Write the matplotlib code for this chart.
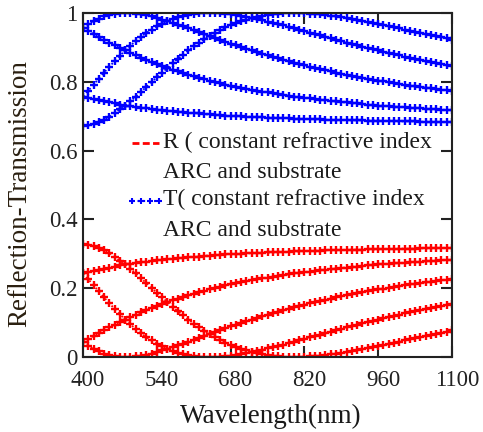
import matplotlib
matplotlib.use('Agg')
import numpy as np
import matplotlib.pyplot as plt
import matplotlib.transforms as mtransforms
from matplotlib.lines import Line2D
from matplotlib.legend_handler import HandlerLine2D

plt.rcParams['font.family'] = ['Liberation Serif', 'DejaVu Serif']

wavelength = list(range(400, 1101, 10))

# Reflection curves (ARC of increasing thickness)
R1 = [0.243, 0.247, 0.250, 0.254, 0.257, 0.260, 0.263, 0.266, 0.269, 0.271, 0.273, 0.275, 0.277, 0.279, 0.281,
      0.283, 0.284, 0.286, 0.287, 0.289, 0.290, 0.291, 0.292, 0.294, 0.295, 0.296, 0.297, 0.298, 0.298, 0.299,
      0.300, 0.301, 0.302, 0.302, 0.303, 0.304, 0.304, 0.305, 0.306, 0.306, 0.307, 0.307, 0.308, 0.308, 0.309,
      0.309, 0.310, 0.310, 0.311, 0.311, 0.311, 0.312, 0.312, 0.312, 0.313, 0.313, 0.313, 0.314, 0.314, 0.314,
      0.315, 0.315, 0.315, 0.315, 0.316, 0.316, 0.316, 0.316, 0.317, 0.317, 0.317]
R2 = [0.045, 0.053, 0.061, 0.070, 0.078, 0.086, 0.094, 0.101, 0.109, 0.116, 0.123, 0.130, 0.136, 0.143, 0.149,
      0.154, 0.160, 0.165, 0.170, 0.175, 0.180, 0.184, 0.189, 0.193, 0.197, 0.200, 0.204, 0.208, 0.211, 0.214,
      0.217, 0.220, 0.223, 0.226, 0.229, 0.231, 0.234, 0.236, 0.238, 0.240, 0.243, 0.245, 0.247, 0.248, 0.250,
      0.252, 0.254, 0.256, 0.257, 0.259, 0.260, 0.262, 0.263, 0.265, 0.266, 0.267, 0.269, 0.270, 0.271, 0.272,
      0.273, 0.274, 0.275, 0.276, 0.277, 0.278, 0.279, 0.280, 0.281, 0.282, 0.283]
R3 = [0.045, 0.033, 0.024, 0.016, 0.010, 0.005, 0.002, 0.001, 0.000, 0.001, 0.002, 0.004, 0.007, 0.010, 0.014,
      0.019, 0.024, 0.029, 0.034, 0.039, 0.045, 0.050, 0.056, 0.061, 0.067, 0.072, 0.078, 0.083, 0.089, 0.094,
      0.099, 0.104, 0.109, 0.114, 0.119, 0.123, 0.128, 0.132, 0.136, 0.140, 0.145, 0.149, 0.152, 0.156, 0.160,
      0.163, 0.167, 0.170, 0.173, 0.177, 0.180, 0.183, 0.186, 0.189, 0.191, 0.194, 0.197, 0.199, 0.202, 0.204,
      0.206, 0.209, 0.211, 0.213, 0.215, 0.217, 0.219, 0.221, 0.223, 0.225, 0.227]
R4 = [0.243, 0.226, 0.208, 0.191, 0.173, 0.156, 0.140, 0.124, 0.109, 0.095, 0.081, 0.069, 0.058, 0.048, 0.039,
      0.031, 0.024, 0.018, 0.013, 0.008, 0.005, 0.003, 0.001, 0.000, 0.000, 0.000, 0.001, 0.002, 0.004, 0.006,
      0.009, 0.011, 0.014, 0.018, 0.021, 0.025, 0.029, 0.032, 0.036, 0.041, 0.045, 0.049, 0.053, 0.057, 0.061,
      0.065, 0.070, 0.074, 0.078, 0.082, 0.086, 0.090, 0.094, 0.098, 0.101, 0.105, 0.109, 0.113, 0.116, 0.120,
      0.123, 0.127, 0.130, 0.133, 0.136, 0.139, 0.143, 0.146, 0.149, 0.151, 0.154]
R5 = [0.329, 0.327, 0.324, 0.318, 0.311, 0.302, 0.292, 0.280, 0.269, 0.256, 0.243, 0.229, 0.215, 0.201, 0.187,
      0.173, 0.160, 0.146, 0.133, 0.121, 0.109, 0.097, 0.087, 0.076, 0.067, 0.058, 0.050, 0.042, 0.035, 0.029,
      0.024, 0.019, 0.014, 0.011, 0.008, 0.005, 0.003, 0.002, 0.001, 0.000, 0.000, 0.000, 0.001, 0.002, 0.003,
      0.004, 0.006, 0.008, 0.010, 0.012, 0.014, 0.017, 0.020, 0.023, 0.026, 0.029, 0.032, 0.035, 0.038, 0.041,
      0.045, 0.048, 0.051, 0.055, 0.058, 0.061, 0.065, 0.068, 0.071, 0.074, 0.078]

# Transmission curves
T1 = [0.757, 0.753, 0.750, 0.746, 0.743, 0.740, 0.737, 0.734, 0.731, 0.729, 0.727, 0.725, 0.723, 0.721, 0.719,
      0.717, 0.716, 0.714, 0.713, 0.711, 0.710, 0.709, 0.708, 0.706, 0.705, 0.704, 0.703, 0.702, 0.702, 0.701,
      0.700, 0.699, 0.698, 0.698, 0.697, 0.696, 0.696, 0.695, 0.694, 0.694, 0.693, 0.693, 0.692, 0.692, 0.691,
      0.691, 0.690, 0.690, 0.689, 0.689, 0.689, 0.688, 0.688, 0.688, 0.687, 0.687, 0.687, 0.686, 0.686, 0.686,
      0.685, 0.685, 0.685, 0.685, 0.684, 0.684, 0.684, 0.684, 0.683, 0.683, 0.683]
T2 = [0.955, 0.947, 0.939, 0.930, 0.922, 0.914, 0.906, 0.899, 0.891, 0.884, 0.877, 0.870, 0.864, 0.857, 0.851,
      0.846, 0.840, 0.835, 0.830, 0.825, 0.820, 0.816, 0.811, 0.807, 0.803, 0.800, 0.796, 0.792, 0.789, 0.786,
      0.783, 0.780, 0.777, 0.774, 0.771, 0.769, 0.766, 0.764, 0.762, 0.760, 0.757, 0.755, 0.753, 0.752, 0.750,
      0.748, 0.746, 0.744, 0.743, 0.741, 0.740, 0.738, 0.737, 0.735, 0.734, 0.733, 0.731, 0.730, 0.729, 0.728,
      0.727, 0.726, 0.725, 0.724, 0.723, 0.722, 0.721, 0.720, 0.719, 0.718, 0.717]
T3 = [0.955, 0.967, 0.976, 0.984, 0.990, 0.995, 0.998, 0.999, 1.000, 0.999, 0.998, 0.996, 0.993, 0.990, 0.986,
      0.981, 0.976, 0.971, 0.966, 0.961, 0.955, 0.950, 0.944, 0.939, 0.933, 0.928, 0.922, 0.917, 0.911, 0.906,
      0.901, 0.896, 0.891, 0.886, 0.881, 0.877, 0.872, 0.868, 0.864, 0.860, 0.855, 0.851, 0.848, 0.844, 0.840,
      0.837, 0.833, 0.830, 0.827, 0.823, 0.820, 0.817, 0.814, 0.811, 0.809, 0.806, 0.803, 0.801, 0.798, 0.796,
      0.794, 0.791, 0.789, 0.787, 0.785, 0.783, 0.781, 0.779, 0.777, 0.775, 0.773]
T4 = [0.757, 0.774, 0.792, 0.809, 0.827, 0.844, 0.860, 0.876, 0.891, 0.905, 0.919, 0.931, 0.942, 0.952, 0.961,
      0.969, 0.976, 0.982, 0.987, 0.992, 0.995, 0.997, 0.999, 1.000, 1.000, 1.000, 0.999, 0.998, 0.996, 0.994,
      0.991, 0.989, 0.986, 0.982, 0.979, 0.975, 0.971, 0.968, 0.964, 0.959, 0.955, 0.951, 0.947, 0.943, 0.939,
      0.935, 0.930, 0.926, 0.922, 0.918, 0.914, 0.910, 0.906, 0.902, 0.899, 0.895, 0.891, 0.887, 0.884, 0.880,
      0.877, 0.873, 0.870, 0.867, 0.864, 0.861, 0.857, 0.854, 0.851, 0.849, 0.846]
T5 = [0.671, 0.673, 0.676, 0.682, 0.689, 0.698, 0.708, 0.720, 0.731, 0.744, 0.757, 0.771, 0.785, 0.799, 0.813,
      0.827, 0.840, 0.854, 0.867, 0.879, 0.891, 0.903, 0.913, 0.924, 0.933, 0.942, 0.950, 0.958, 0.965, 0.971,
      0.976, 0.981, 0.986, 0.989, 0.992, 0.995, 0.997, 0.998, 0.999, 1.000, 1.000, 1.000, 0.999, 0.998, 0.997,
      0.996, 0.994, 0.992, 0.990, 0.988, 0.986, 0.983, 0.980, 0.977, 0.974, 0.971, 0.968, 0.965, 0.962, 0.959,
      0.955, 0.952, 0.949, 0.945, 0.942, 0.939, 0.935, 0.932, 0.929, 0.926, 0.922]

x_ticks = [400, 540, 680, 820, 960, 1100]
y_ticks = [0, 0.2, 0.4, 0.6, 0.8, 1.0]
y_tick_labels = ['0', '0.2', '0.4', '0.6', '0.8', '1']
legend_labels = ['R ( constant refractive index\nARC and substrate',
                 'T( constant refractive index\nARC and substrate']


class FirstLineHandler(HandlerLine2D):
    """Place the legend sample level with the first line of a two-line label."""
    def __init__(self, dy, **kw):
        super().__init__(**kw)
        self.dy = dy

    def create_artists(self, legend, orig_handle, xdescent, ydescent, width, height,
                       fontsize, trans):
        arts = super().create_artists(legend, orig_handle, xdescent, ydescent, width,
                                      height, fontsize, trans)
        for a in arts:
            if hasattr(a, 'set_ydata'):
                a.set_ydata(np.asarray(a.get_ydata()) + self.dy)
        return arts


W, H = 483, 432
fig = plt.figure(figsize=(W / 100, H / 100), dpi=100)
ax = fig.add_axes([83 / W, 1 - 357 / H, (452 - 83) / W, (357 - 13) / H])

style = dict(marker='+', markersize=5.5, markeredgewidth=1.7, linewidth=1.3, linestyle=':')
for R in (R1, R2, R3, R4, R5):
    ax.plot(wavelength, R, color='#ff0000', **style)
for T in (T1, T2, T3, T4, T5):
    ax.plot(wavelength, T, color='#0000ff', **style)

ax.set_xlim(400, 1100)
ax.set_ylim(0, 1)
ax.set_xticks(x_ticks)
ax.set_yticks(y_ticks)
ax.set_yticklabels(y_tick_labels)
for s in ax.spines.values():
    s.set_linewidth(1.5)
    s.set_color('#222222')
ax.tick_params(direction='in', length=8, width=1.5, top=True, right=True,
               labelsize=16.5, colors='#222222')
ax.tick_params(axis='x', pad=9)
ax.tick_params(axis='y', pad=4)
shift = mtransforms.ScaledTranslation(5 / 100, 0, fig.dpi_scale_trans)
for lab in ax.get_xticklabels():
    lab.set_transform(lab.get_transform() + shift)

ax.set_xlabel('Wavelength(nm)', fontsize=19.5, color='#1a1a1a', labelpad=8)
ax.xaxis.set_label_coords(0.51, -0.135)
ax.xaxis.label.set_va('top')
ax.set_ylabel('Reflection-Transmission', fontsize=19.5, color='#2a1f10')
ax.yaxis.set_label_coords(-0.137, 0.475)

h_r = Line2D([], [], color='#ff0000', linestyle=(0, (2.5, 1.2)), linewidth=2)
h_t = Line2D([], [], color='#0000ff', linestyle=':', linewidth=1.5, marker='+', markersize=5,
             markeredgewidth=1.5)
hm = {h_r: FirstLineHandler(10.3, marker_pad=0.0),
      h_t: FirstLineHandler(10.3, marker_pad=0.0, numpoints=4)}
leg = ax.legend([h_r, h_t], legend_labels, loc='upper left', bbox_to_anchor=(0.133, 0.655),
                frameon=False, fontsize=17, handlelength=1.15, handletextpad=0.15,
                borderpad=0, borderaxespad=0, labelspacing=0.25, numpoints=3, handler_map=hm)
for t in leg.get_texts():
    t.set_color('#1a1a1a')
    t.set_linespacing(1.6)

fig.savefig('out.png', dpi=100)
